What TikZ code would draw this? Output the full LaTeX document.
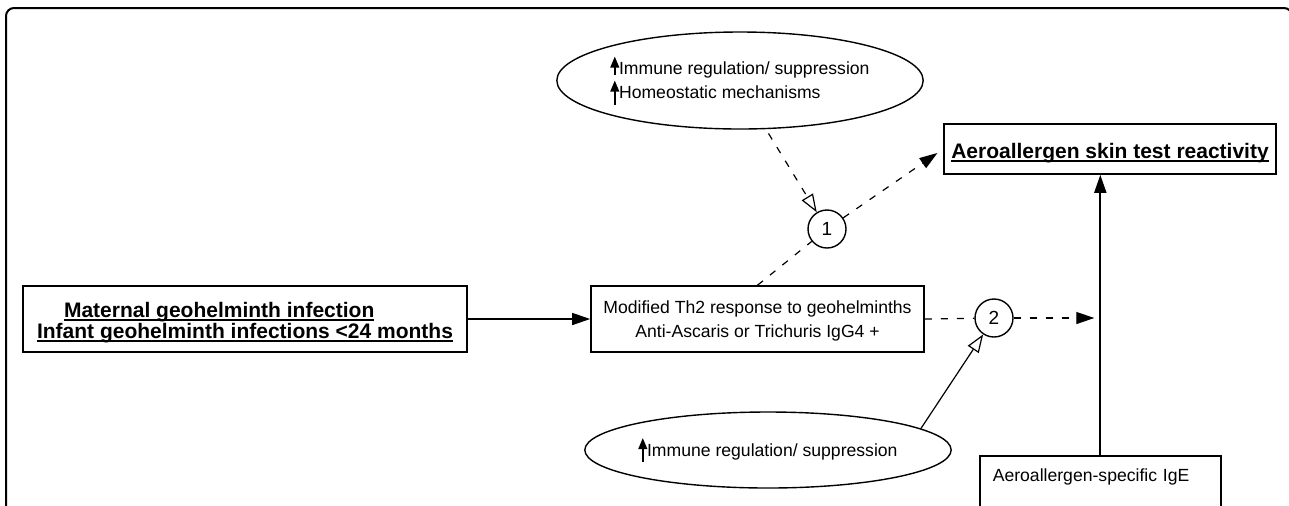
\documentclass[tikz,border=0pt]{standalone}
\usepackage{fontspec}
\setmainfont{Liberation Sans}
\usetikzlibrary{arrows.meta,shapes.geometric,calc}

% small filled up arrow used inside the ovals
\newcommand{\upmark}[1]{\tikz[baseline=0pt]\draw[solid, line width=1pt, -{Triangle[length=5.5pt,width=4.3pt]}] (0pt,#1) -- (0pt,9pt);}
% underline close to the baseline
\newcommand{\ulbar}[1]{\setbox0\hbox{#1}\rlap{\rule[-1.8pt]{\wd0}{0.6pt}}\box0}
\newcommand{\boldfont}{\fontsize{10.5}{10.5}\selectfont\bfseries\lineskiplimit=-20pt\relax}

\begin{document}
\begin{tikzpicture}[x=0.5pt, y=-0.5pt,
    font=\fontsize{8.8}{12}\selectfont,
    box/.style={draw, line width=0.8pt, rectangle, inner sep=0pt},
    oval/.style={draw, line width=0.7pt, ellipse, inner sep=0pt},
    knot/.style={draw, line width=0.7pt, circle, minimum size=19pt, inner sep=0pt, font=\fontsize{9.5}{10}\selectfont},
    dashline/.style={line width=0.6pt, dash pattern=on 3.5pt off 4.5pt},
    headfull/.style={-{Triangle[length=9pt,width=6pt]}},
    headopen/.style={-{Triangle[open,length=9pt,width=6.5pt,fill=white]}},
    boldtext/.style={font=\boldfont}]
\useasboundingbox (0,0) rectangle (1289,505);
\draw[line width=1pt, rounded corners=4pt] (6,8) rectangle (1292,620);

\node[oval, minimum width=153pt, minimum height=48.5pt, align=left] (homeo) at (740,80.5)
    {\upmark{0pt}Immune regulation/ suppression\\ \upmark{-3pt}Homeostatic mechanisms};
\node[box, boldtext, minimum width=166pt, minimum height=25pt, text height=9pt, text depth=0pt] (skin) at (1110,149)
    {\ulbar{Aeroallergen skin test reactivity}};
\node[box, boldtext, minimum width=222pt, minimum height=33pt, align=left, text height=19pt, text depth=0pt] (infect) at (245,319)
    {\hspace*{13.5pt}\ulbar{Maternal geohelminth infection}\\ \ulbar{Infant geohelminth infections <24 months}};
\node[box, minimum width=166.5pt, minimum height=33pt, align=center, text height=18pt, text depth=0pt] (th2) at (757.5,319)
    {Modified Th2 response to geohelminths\\ Anti-Ascaris or Trichuris IgG4 +};
\node[knot] (k1) at (827,229) {1};
\node[knot] (k2) at (994,318) {2};
\node[oval, minimum width=152pt, minimum height=38pt] (immune) at (768,450)
    {\upmark{-3pt}Immune regulation/ suppression};
\node[box, anchor=north west, minimum width=120.5pt, text width=107.5pt, inner xsep=6.5pt,
    inner ysep=6pt, text height=7pt, text depth=60pt, align=left] (ige) at (979,455)
    {Aeroallergen-specific IgE};

% connectors
\draw[line width=0.7pt, headfull] (infect.east) -- (th2.west);
\draw[dashline] (th2.north) -- (k1);
\draw[dashline, headfull, shorten >=3.5pt] (k1) -- (skin.west);
\draw[dashline, headopen, shorten <=2.5pt] (homeo.-62) -- (k1);
\draw[dashline] (th2.east) -- (k2);
\coordinate (join) at (ige.north |- k2);
\draw[dashline, headfull, shorten >=3pt] (k2) -- (join);
\draw[line width=0.6pt, headopen] (immune.8) -- (k2);
\draw[line width=0.9pt, headfull] (ige.north) -- (ige.north |- skin.south);
\end{tikzpicture}
\end{document}
